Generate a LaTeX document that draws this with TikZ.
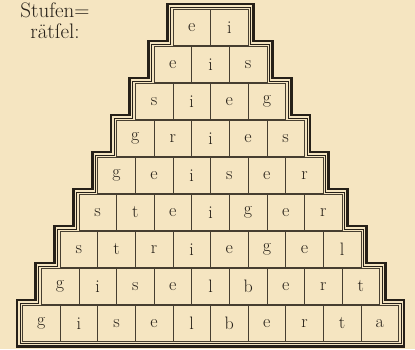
\documentclass[tikz,border=0pt]{standalone}
\definecolor{paper}{RGB}{245,229,193}
\definecolor{ink}{RGB}{38,32,24}
\definecolor{rule}{RGB}{70,62,48}
\tikzset{
  cellbox/.style={draw=rule, line width=0.6pt, minimum width=37.6pt, minimum height=35.5pt,
    inner sep=0pt, outer sep=0pt, anchor=north west, text=ink,
    font=\fontsize{18}{18}\selectfont},
  thinframe/.style={draw=ink, line width=0.7pt},
  thickframe/.style={draw=ink, line width=2.8pt, line join=miter},
}
\newcommand\drawstairs[2]{%
  \draw[#2] ({\cx-5*\w-#1},{\tp+8*\pt+\h+#1})
    \foreach \i in {8,...,1} {
      -- ({\cx-(\i+2)*\w/2-#1},{\tp+\i*\pt-#1})
      -- ({\cx-(\i+1)*\w/2-#1},{\tp+\i*\pt-#1}) }
    -- ({\cx-\w-#1},{\tp-#1}) -- ({\cx+\w+#1},{\tp-#1})
    \foreach \i in {1,...,8} {
      -- ({\cx+(\i+1)*\w/2+#1},{\tp+\i*\pt-#1})
      -- ({\cx+(\i+2)*\w/2+#1},{\tp+\i*\pt-#1}) }
    -- ({\cx+5*\w+#1},{\tp+8*\pt+\h+#1}) -- cycle;
}
\begin{document}
\begin{tikzpicture}[x=1pt,y=-1pt]
\fill[paper] (0,0) rectangle (415,349);
\useasboundingbox (0,0) rectangle (415,349);
\def\w{37.6}\def\cx{210.5}\def\tp{9.5}\def\pt{37}\def\h{35.5}
\node[anchor=north, align=center, text=ink, font=\fontsize{21}{21}\selectfont] (title) at (55,-1)
  {Stufen=\\rätſel:};
\foreach \row [count=\i from 0] in {{e,i},{e,i,s},{s,i,e,g},{g,r,i,e,s},{g,e,i,s,e,r},
   {s,t,e,i,g,e,r},{s,t,r,i,e,g,e,l},{g,i,s,e,l,b,e,r,t},{g,i,s,e,l,b,e,r,t,a}} {
  \foreach \l [count=\j from 0] in \row {
    \node[cellbox] (c-\i-\j) at ({\cx-(\i+2)*\w/2+\j*\w},{\tp+\i*\pt}) {\l};
  }
}
\drawstairs{2.5}{thinframe}
\drawstairs{5.5}{thickframe}
\end{tikzpicture}
\end{document}
